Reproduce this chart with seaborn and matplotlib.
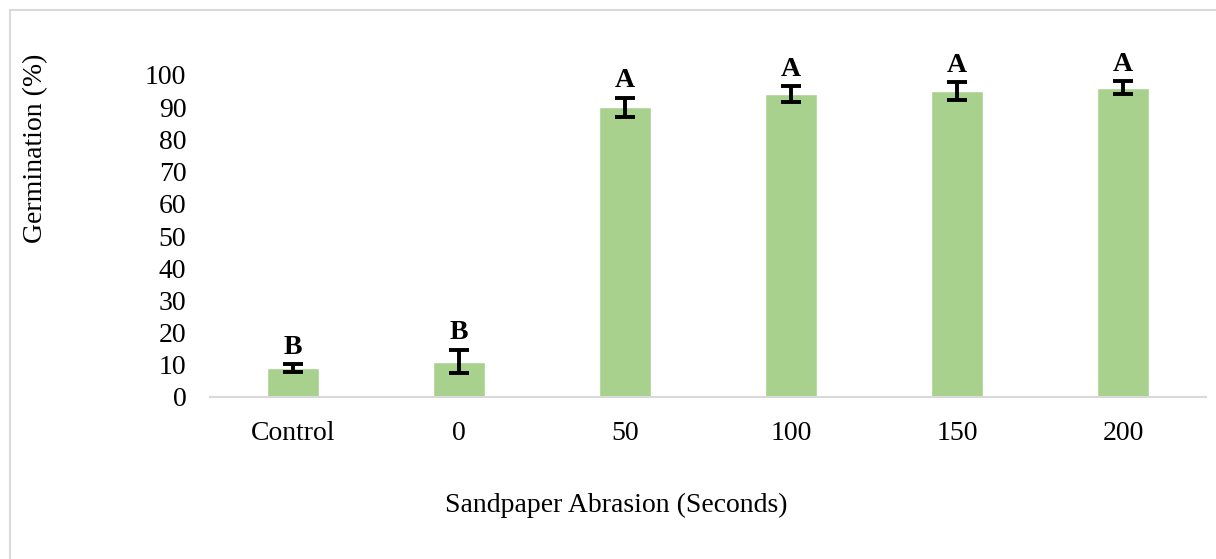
import matplotlib
matplotlib.use("Agg")
import matplotlib.pyplot as plt
import seaborn as sns
import pandas as pd
from matplotlib.patches import Rectangle

# Germination by abrasion treatment
treatments = ["Control", "0", "50", "100", "150", "200"]
germination = [9, 11, 90, 94, 95, 96]
std_err = [1.3, 3.7, 3.0, 2.5, 2.8, 2.0]
letters = ["B", "B", "A", "A", "A", "A"]

sns.set_theme(style="white")
plt.rcParams["font.family"] = ["Liberation Serif", "DejaVu Serif"]
plt.rcParams["text.color"] = "black"
plt.rcParams["xtick.color"] = "black"
plt.rcParams["ytick.color"] = "black"

df = pd.DataFrame({"treatment": treatments, "germination": germination})

fig = plt.figure(figsize=(12.16, 5.59), dpi=100)
ax = fig.add_axes([210 / 1216, 1 - 397 / 559, 996 / 1216, 322 / 559])

sns.barplot(data=df, x="treatment", y="germination", color="#A9D18E",
            saturation=1, width=0.313, ax=ax, errorbar=None)
ax.errorbar(range(len(treatments)), germination, yerr=std_err, fmt="none",
            ecolor="black", elinewidth=2.8, capsize=7, capthick=2.8, zorder=5)

for i, (v, e, t) in enumerate(zip(germination, std_err, letters)):
    ax.annotate(t, xy=(i, v + e), xytext=(0, 3), textcoords="offset points",
                ha="center", va="bottom", fontsize=20, fontweight="bold",
                color="black", annotation_clip=False)

ax.set_ylim(0, 100)
ax.set_xlim(-0.5, len(treatments) - 0.5)
ax.set_yticks(range(0, 101, 10))
ax.tick_params(axis="both", length=0, labelsize=20, colors="black")
ax.tick_params(axis="y", pad=17)
ax.tick_params(axis="x", pad=17)
for side in ["top", "right", "left"]:
    ax.spines[side].set_visible(False)
ax.spines["bottom"].set_color("#D9D9D9")
ax.spines["bottom"].set_linewidth(1.5)
ax.set_xlabel("")
ax.set_ylabel("")

fig.text(616 / 1216, 1 - 505 / 559, "Sandpaper Abrasion (Seconds)",
         ha="center", va="center", fontsize=20, color="black")
fig.text(36 / 1216, 1 - 148 / 559, "Germination (%)", rotation=90,
         ha="center", va="center", fontsize=20, color="black")

# light frame around the chart area
fig.patches.append(Rectangle((10 / 1216, -0.05), 1.2, 1 - 10 / 559 + 0.05,
                             transform=fig.transFigure, fill=False,
                             edgecolor="#D9D9D9", linewidth=1.5))

fig.savefig("out.png", dpi=100)
